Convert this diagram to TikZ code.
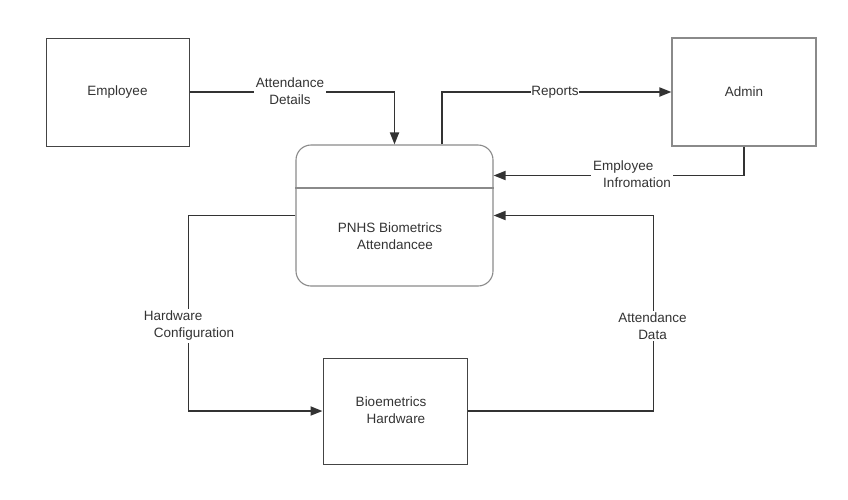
\documentclass[tikz,border=0pt]{standalone}
\usepackage{fontspec}
\setmainfont{Liberation Sans}
\usetikzlibrary{arrows.meta}
\definecolor{txt}{HTML}{333333}
\definecolor{ln}{HTML}{333333}
\definecolor{bd}{HTML}{444444}
\definecolor{bdl}{HTML}{8A8A8A}
\begin{document}
\begin{tikzpicture}[x=1pt,y=-1pt,
  every node/.style={text=txt,font=\fontsize{13.5}{17}\selectfont},
  box/.style={draw=bd,line width=1pt,minimum width=143pt,minimum height=108pt,inner sep=0pt},
  lbox/.style={draw=bdl,line width=1.1pt,minimum width=144pt,minimum height=108pt,inner sep=0pt},
  proc/.style={draw=bdl,line width=1.1pt,rounded corners=15pt,minimum width=197pt,minimum height=141pt,inner sep=0pt},
  arr/.style={draw=ln,line width=1.8pt,-{Triangle[length=12pt,width=9pt]}},
  lbl/.style={fill=white,inner sep=2pt,align=center}]
\useasboundingbox (0,0) rectangle (848,499);
\node[box] (emp) at (117.5,92) {Employee};
\node[lbox] (admin) at (744,92) {Admin};
\node[proc] (proc) at (394.5,215.5) {};
\node[box,minimum width=144pt,minimum height=106pt] (hw) at (395,411) {};
\node[align=center] (hwt) at (391,410) {Bioemetrics\\\hspace{10pt}Hardware};
\draw[draw=bdl,line width=1.1pt] (proc.west |- 0,188) -- (proc.east |- 0,188);
\node[align=center] (proct) at (390,236.5) {PNHS Biometrics\\\hspace{10pt}Attendancee};
% connectors
\draw[arr] (emp.east) -| (proc.north);
\draw[arr] ([xshift=47.5pt]proc.north) |- (admin.west);
\draw[arr] (admin.south) |- ([yshift=40pt]proc.east);
\draw[arr] (hw.east) -- ++(186,0) coordinate (adc) |- (proc.east);
\draw[arr] (proc.west) -- ++(-107,0) coordinate (hcc) |- (hw.west);
% labels
\node[lbl] (l1) at (290,91.5) {Attendance\\Details};
\node[lbl,inner sep=0.5pt] (l2) at (555,92) {Reports};
\node[lbl,align=left] (l3) at (632,174.5) {Employee\\\hspace{10pt}Infromation};
\node[lbl,align=left] (l4) at (189,326) {Hardware\\\hspace{10pt}Configuration};
\node[lbl] (l5) at (652.5,326) {Attendance\\Data};
\end{tikzpicture}
\end{document}
